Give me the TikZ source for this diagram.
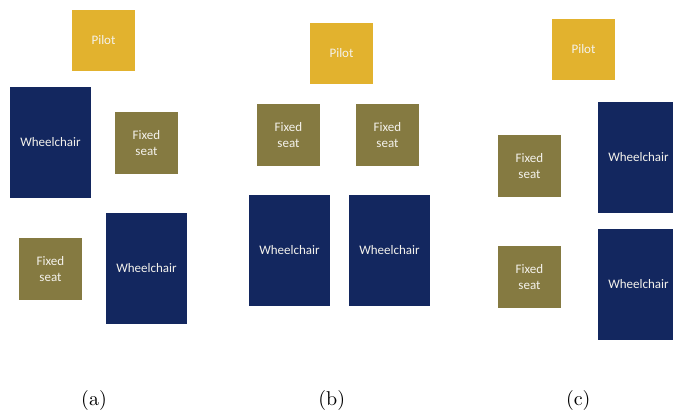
\documentclass[tikz,border=0pt]{standalone}
\usepackage{fontspec}
\newfontfamily\boxfont{Carlito}
\newfontfamily\capfont{lmroman10-regular}[Extension=.otf]
\definecolor{pilotc}{HTML}{E2B22E}
\definecolor{seatc}{HTML}{857A41}
\definecolor{wheelc}{HTML}{13275F}
\definecolor{txtc}{HTML}{F4F2EC}
\tikzset{
  base/.style={anchor=north west, inner sep=0pt, outer sep=0pt, text=txtc,
    font=\boxfont\fontsize{13}{16}\selectfont, align=center},
  pilotbox/.style={base, fill=pilotc, minimum width=63pt, minimum height=61pt},
  seatbox/.style={base, fill=seatc, minimum width=63pt, minimum height=62pt},
  wheelbox/.style={base, fill=wheelc, minimum width=81pt, minimum height=111pt},
  caplabel/.style={inner sep=0pt, font=\capfont\fontsize{20}{20}\selectfont}
}
\begin{document}
\begin{tikzpicture}[x=1pt,y=-1pt]
\useasboundingbox (0,0) rectangle (673,414);
% (a)
\node[pilotbox] (pa) at (72,10) {Pilot};
\node[wheelbox] (wa1) at (10,87) {Wheelchair};
\node[seatbox] (sa1) at (115,112) {Fixed\\seat};
\node[seatbox] (sa2) at (19,238) {Fixed\\seat};
\node[wheelbox] (wa2) at (106,213) {Wheelchair};
% (b)
\node[pilotbox] (pb) at (310,23) {Pilot};
\node[seatbox] (sb1) at (257,104) {Fixed\\seat};
\node[seatbox] (sb2) at (356,104) {Fixed\\seat};
\node[wheelbox] (wb1) at (249,195) {Wheelchair};
\node[wheelbox] (wb2) at (349,195) {Wheelchair};
% (c)
\node[pilotbox] (pc) at (552,19) {Pilot};
\node[seatbox] (sc1) at (498,135) {Fixed\\seat};
\node[seatbox] (sc2) at (498,246) {Fixed\\seat};
\begin{scope}
\clip (0,0) rectangle (673,414);
\node[wheelbox] (wc1) at (598,102) {Wheelchair};
\node[wheelbox] (wc2) at (598,229) {Wheelchair};
\end{scope}
% captions
\node[caplabel] (la) at (94,401) {(a)};
\node[caplabel] (lb) at (331.7,401) {(b)};
\node[caplabel] (lc) at (578.3,401) {(c)};
\end{tikzpicture}
\end{document}
